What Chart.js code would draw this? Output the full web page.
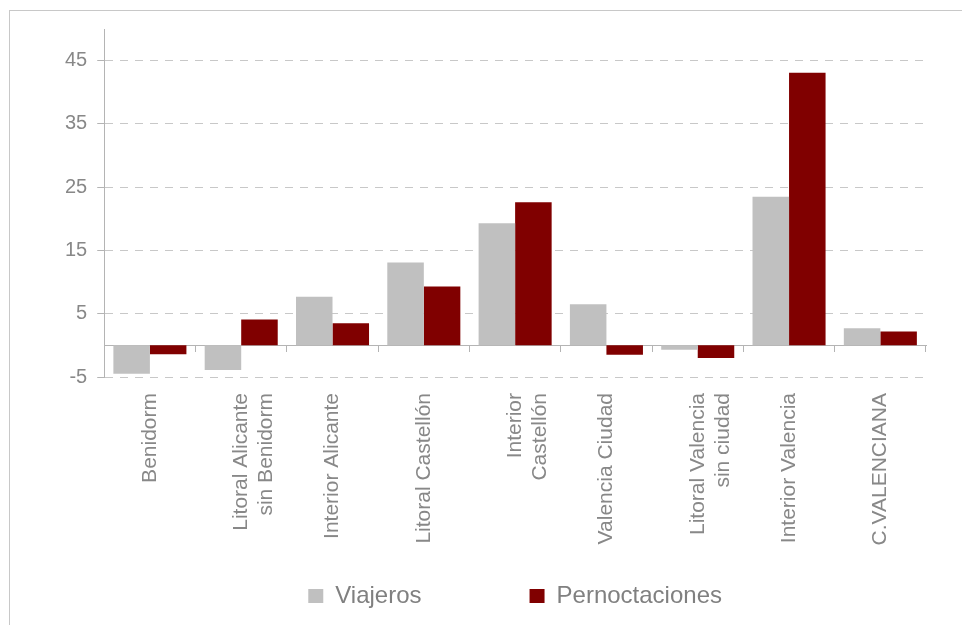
<!DOCTYPE html>
<html>
<head>
<meta charset="utf-8">
<script src="https://cdn.jsdelivr.net/npm/chart.js@4.4.1/dist/chart.umd.min.js"></script>
<style>
    html, body { margin: 0; padding: 0; background: #fff; overflow: hidden; }
    .frame { position: absolute; left: 9px; top: 10px; width: 1000px; height: 700px;
             border-left: 1px solid #c8c8c8; border-top: 1px solid #c8c8c8; }
    #chart { position: absolute; left: 0; top: 0; }
</style>
</head>
<body>
<div class="frame"></div>
<canvas id="chart" width="962" height="625"></canvas>
<script>
const categories = [
    'Benidorm',
    ['Litoral Alicante', 'sin Benidorm'],
    'Interior Alicante',
    'Litoral Castellón',
    ['Interior', 'Castellón'],
    'Valencia Ciudad',
    ['Litoral Valencia', 'sin ciudad'],
    'Interior Valencia',
    'C.VALENCIANA'
];
const viajeros = [-4.5, -3.9, 7.7, 13.1, 19.3, 6.5, -0.7, 23.5, 2.7];
const pernoctaciones = [-1.4, 4.1, 3.5, 9.3, 22.6, -1.5, -2.0, 43.1, 2.2];
const yTicks = [-5, 5, 15, 25, 35, 45];

const textGray = '#888888';
const axisGray = '#b4b4b4';
const labelSize = 21;

const ctx = document.getElementById('chart').getContext('2d');

new Chart(ctx, {
    type: 'bar',
    data: {
        labels: categories,
        datasets: [
            {
                label: 'Viajeros',
                data: viajeros,
                backgroundColor: '#c0c0c0',
                borderColor: '#c0c0c0',
                borderWidth: 0,
                categoryPercentage: 0.8,
                barPercentage: 1.0
            },
            {
                label: 'Pernoctaciones',
                data: pernoctaciones,
                backgroundColor: '#800000',
                borderColor: '#800000',
                borderWidth: 0,
                categoryPercentage: 0.8,
                barPercentage: 1.0
            }
        ]
    },
    options: {
        responsive: false,
        animation: false,
        layout: { padding: { left: 55, right: 36, top: 29, bottom: 7 } },
        font: { family: '"Liberation Sans", Arial, sans-serif' },
        plugins: {
            tooltip: { enabled: false },
            legend: {
                position: 'bottom',
                fullSize: false,
                labels: {
                    boxWidth: 15,
                    boxHeight: 14,
                    padding: 108,
                    color: '#808080',
                    font: { size: 24 }
                }
            }
        },
        scales: {
            // category labels, hanging below the plot (mirror keeps them unclipped)
            x: {
                type: 'category',
                grid: { display: false, drawTicks: false },
                border: { display: false },
                ticks: {
                    autoSkip: false,
                    minRotation: 90,
                    maxRotation: 90,
                    mirror: true,
                    padding: -16,
                    labelOffset: labelSize * 1.2,
                    color: textGray,
                    font: { size: labelSize }
                },
                afterFit: (scale) => { scale.height = 99; }
            },
            // zero line with category tick marks
            x2: {
                type: 'category',
                axis: 'x',
                position: { y: 0 },
                offset: true,
                grid: {
                    offset: true,
                    drawOnChartArea: false,
                    drawTicks: true,
                    tickLength: 6,
                    color: axisGray
                },
                border: { display: true, color: axisGray, width: 1 },
                ticks: { display: false },
                afterFit: (scale) => { scale.height = 0; }
            },
            y: {
                position: 'left',
                min: -5,
                max: 50,
                afterBuildTicks: (scale) => {
                    scale.ticks = yTicks.map(v => ({ value: v }));
                },
                grid: {
                    color: '#c8c8c8',
                    tickLength: 7,
                    tickBorderDash: [],
                    tickColor: axisGray
                },
                border: { display: true, color: axisGray, width: 1, dash: [8, 7] },
                ticks: {
                    padding: 10,
                    color: textGray,
                    font: { size: 20 }
                }
            }
        }
    }
});
</script>
</body>
</html>
